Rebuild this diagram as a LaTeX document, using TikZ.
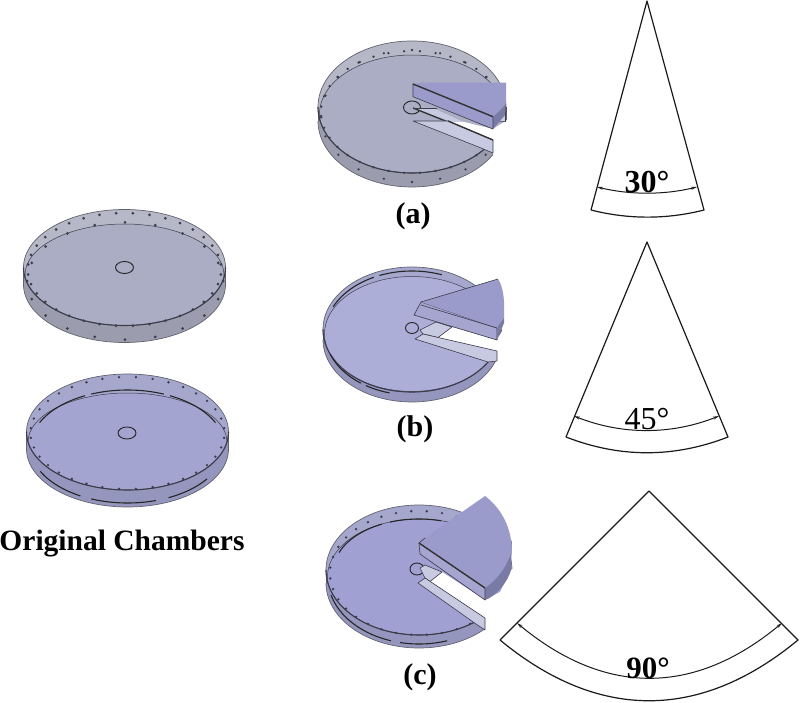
\documentclass[tikz,border=0pt]{standalone}
\usepackage{fontspec}
\setmainfont{Liberation Serif}
\usetikzlibrary{arrows.meta}
\definecolor{gwall}{RGB}{155,157,175}
\definecolor{gback}{RGB}{182,184,200}
\definecolor{gfloor}{RGB}{170,173,195}
\definecolor{pwall}{RGB}{148,150,190}
\definecolor{pback}{RGB}{165,167,205}
\definecolor{pfloor}{RGB}{163,165,208}
\definecolor{bfloor}{RGB}{172,174,215}
\definecolor{cfloor}{RGB}{160,161,210}
\definecolor{sectorface}{RGB}{155,155,203}
\definecolor{sectorside}{RGB}{122,123,165}
\definecolor{cutface}{RGB}{200,202,225}
\definecolor{edgedark}{RGB}{60,60,75}
\newcommand{\chamber}[9]{%
  \fill[#8] (#1,#2+#5) ellipse [x radius=#3,y radius=#4];
  \fill[#8] ({#1-#3},#2) rectangle ({#1+#3},#2+#5);
  \draw[edgeline] plot[domain=0:180,samples=70] ({#1+#3*cos(\x)},{#2+#5+#4*sin(\x)});
  \draw[edgeline] ({#1-#3},#2) -- ({#1-#3},#2+#5) ({#1+#3},#2) -- ({#1+#3},#2+#5);
  \fill[backwall] (#1,#2) ellipse [x radius=#3,y radius=#4];
  \begin{scope}
    \clip (#1,#2) ellipse [x radius=#3,y radius=#4];
    \filldraw[fill=#9,draw=edgedark,line width=.5pt] (#1,#6) ellipse [x radius=#3-1.5,y radius=#7];
  \end{scope}
  \draw[edgeline] (#1,#2) ellipse [x radius=#3,y radius=#4];
  \draw[edgedark,line width=1.1pt] plot[domain=0:180,samples=70] ({#1+#3*cos(\x)},{#2+#4*sin(\x)});
}
\newcommand{\rimdots}[7]{% cx cy rx ry count offset radius
  \foreach \k in {1,...,#5} {
    \fill[edgedark] ({#1+#3*cos(#6+\k*360/#5)},{#2+#4*sin(#6+\k*360/#5)}) circle (#7);
  }
}
\newcommand{\darkarc}[6]{% cx cy rx ry from to
  \draw[black!85,line width=1.1pt] plot[domain=#5:#6,samples=24] ({#1+#3*cos(\x)},{#2+#4*sin(\x)});
}
\tikzset{
  edgeline/.style={draw=edgedark!80,line width=.7pt},
  cutline/.style={draw=edgedark,line width=.6pt,line join=round},
  thickcut/.style={draw=black!80,line width=1.4pt},
  lbl/.style={font=\fontsize{30}{32}\selectfont\bfseries,inner sep=0pt},
  anglbl/.style={font=\fontsize{32}{34}\selectfont\bfseries,inner sep=0pt},
  wedge/.style={line width=1.2pt,line join=round,draw=black!90},
  angtip/.style={{Stealth[length=6pt,width=3pt]}-{Stealth[length=6pt,width=3pt]},line width=1pt,draw=black!90},
  hole/.style={draw=black!85,line width=.9pt}
}
\begin{document}
\begin{tikzpicture}[x=1pt,y=-1pt]
\useasboundingbox (0,0) rectangle (800,703);

% ---------- top original chamber
\tikzset{backwall/.style={fill=gback}}
\chamber{124.5}{267.5}{101}{58}{17}{275}{51}{gwall}{gfloor}
\rimdots{125}{281}{98}{58.7}{20}{0}{1.5pt}
\rimdots{124.5}{269.5}{96.7}{56.5}{36}{5}{1.5pt}
\draw[hole] (124.5,267.5) ellipse [x radius=9,y radius=6];

% ---------- bottom original chamber
\tikzset{backwall/.style={fill=pback}}
\chamber{127.5}{432}{101}{58}{17}{442}{49}{pwall}{pfloor}
\rimdots{127.5}{433}{97}{56}{36}{5}{1.3pt}
\darkarc{127.5}{446.5}{97}{56.5}{119}{154}
\darkarc{127.5}{446.5}{97}{56.5}{73}{112}
\darkarc{127.5}{446.5}{97}{56.5}{35}{65}
\darkarc{127.5}{446.5}{97}{56.5}{248}{292}
\darkarc{127.5}{446.5}{97}{56.5}{296}{335}
\darkarc{127.5}{446.5}{97}{56.5}{205}{244}
\fill[pfloor] (127,433) ellipse [x radius=9,y radius=6];
\draw[hole] (127,433) ellipse [x radius=9,y radius=6];
\node[lbl,font=\fontsize{29.5}{32}\selectfont\bfseries] (orig) at (122,544) {Original Chambers};

% ---------- chamber (a)
\tikzset{backwall/.style={fill=gback}}
\chamber{412}{107}{94}{66}{14}{114}{59}{gwall}{gfloor}
\rimdots{412}{112}{91}{61}{36}{5}{1.3pt}
\rimdots{412}{116}{91}{66}{20}{0}{1.3pt}
\fill[white] (448,121.7) -- (463,121.7) -- (493,129) -- (510,118) -- (510,195) -- (493,195) -- (493,140) -- cycle;
\draw[hole] (412,107.5) ellipse [x radius=8.5,y radius=6.5];
\filldraw[fill=cutface,cutline] (493,121.7) -- (505.5,121.7) -- (505.5,103) -- (493,110) -- cycle;
\filldraw[fill=cutface,draw=none] (413,108) -- (433,108) -- (463,121.7) -- (448,121.7) -- cycle;
\draw[thickcut] (413,108) -- (448,122);
\draw[cutline] (413,108) -- (437,108);
\filldraw[fill=cutface,cutline] (413,121) -- (448,121) -- (493,140) -- (493,153) -- (481,148) -- cycle;
\draw[thickcut] (448,121) -- (493,140);
\fill[sectorside] (493,116.7) -- (506,103) -- (505,115) -- (493,129) -- cycle;
\filldraw[fill=sectorface,cutline] (413,84) -- (493,116.7) -- (493,129) -- (413,96.7) -- cycle;
\fill[sectorface] (420.7,82.7) -- (506,82.7) -- (506,103) .. controls (503,108) and (498,112) .. (493,116.7) -- (413,84) -- cycle;
\draw[thickcut] (413,84) -- (493,116.7);
\node[lbl] (la) at (413,216) {(a)};

% ---------- chamber (b)
\tikzset{backwall/.style={fill=pback}}
\chamber{412}{329.5}{89}{62.5}{10}{334}{57.5}{pwall}{bfloor}
\darkarc{412}{333}{87}{62}{105}{122}
\darkarc{412}{333}{87}{62}{126}{160}
\darkarc{412}{333}{87}{62}{205}{244}
\darkarc{412}{333}{87}{62}{248}{290}
\fill[white] (438,337.5) -- (452,327) -- (497,340) -- (508,320) -- (508,410) -- (497,410) -- (497,351) -- cycle;
\draw[hole] (412,328) ellipse [x radius=6.5,y radius=5.5];
\filldraw[fill=cutface,cutline] (420,330) -- (436,322) -- (452,327) -- (438,337.5) -- (423,334) -- cycle;
\filldraw[fill=cutface,cutline] (415,339) -- (423,334) -- (497,351) -- (497,361) -- (488,362) -- cycle;
\filldraw[fill=sectorface!90!white,cutline] (421,302) -- (414,315) -- (497,340) -- (497,328) -- cycle;
\fill[sectorside] (497,328) -- (504,317) -- (504,323) -- (497,340) -- cycle;
\fill[sectorface] (421,302) -- (498,279) .. controls (502,285) and (505,295) .. (504,317) -- (497,328) -- cycle;
\draw[cutline] (421,302) -- (498,279) (421,305) -- (497,328);
\node[lbl] (lb) at (415,429) {(b)};

% ---------- chamber (c)
\tikzset{backwall/.style={fill=pback}}
\chamber{419}{570}{93}{65}{13}{577}{58}{pwall}{cfloor}
\rimdots{419}{573}{89}{62}{36}{5}{1.3pt}
\darkarc{419}{578}{91}{66}{72}{102}
\darkarc{419}{578}{91}{66}{108}{165}
\darkarc{419}{570}{85}{51}{200}{244}
\darkarc{419}{570}{85}{51}{250}{285}
\fill[white] (430,581.5) -- (442,572) -- (485,600) -- (500,592) -- (511,570) -- (525,560) -- (525,660) -- (485,660) -- (485,618) -- cycle;
\draw[hole] (417,569) ellipse [x radius=7,y radius=6];
\filldraw[fill=cutface,cutline] (420,568) -- (425,565) -- (442,572) -- (430,581.5) -- (425,578) -- cycle;
\filldraw[fill=cutface,cutline] (418,583) -- (425,578) -- (485,618) -- (485,630) -- (476,624) -- cycle;
\fill[sectorside] (485,588) -- (485,600) .. controls (495,597) and (508,582) .. (511,570) -- (512,540) -- cycle;
\filldraw[fill=sectorface!90!white,cutline] (419,543) -- (485,588) -- (485,600) -- (420,554) -- cycle;
\fill[sectorface] (425,538) -- (485,496) .. controls (497,505) and (511,522) .. (512,550) .. controls (508,565) and (497,580) .. (485,588) -- (419,543) -- cycle;
\draw[thickcut] (419,543) -- (485,588);
\draw[cutline] (419,543) -- (425,538);
\node[lbl] (lc) at (420,677) {(c)};

% ---------- 30 degree sector
\draw[wedge] (591,210) -- (647,1) -- (704,210) .. controls (667,219.5) and (628,219.5) .. (591,210);
\draw[angtip] (597,187) .. controls (630,195) and (664,195) .. (697,187);
\node[anglbl] (a30) at (647,182) {30°};

% ---------- 45 degree sector
\draw[wedge] (566,437) -- (647,242) -- (728,437) .. controls (674,458) and (620,458) .. (566,437);
\draw[angtip] (574,416) .. controls (622,435) and (671,435) .. (719,416);
\node[anglbl,font=\fontsize{32}{34}\selectfont] (a45) at (647,419) {45°};

% ---------- 90 degree sector
\draw[wedge] (500,640) -- (649,491) -- (798,640) .. controls (700,721) and (598,721) .. (500,640);
\draw[angtip] (517,623) .. controls (605,696) and (694,696) .. (782,623);
\node[anglbl,font=\fontsize{31}{34}\selectfont\bfseries] (a90) at (648,668) {90°};
\end{tikzpicture}
\end{document}
